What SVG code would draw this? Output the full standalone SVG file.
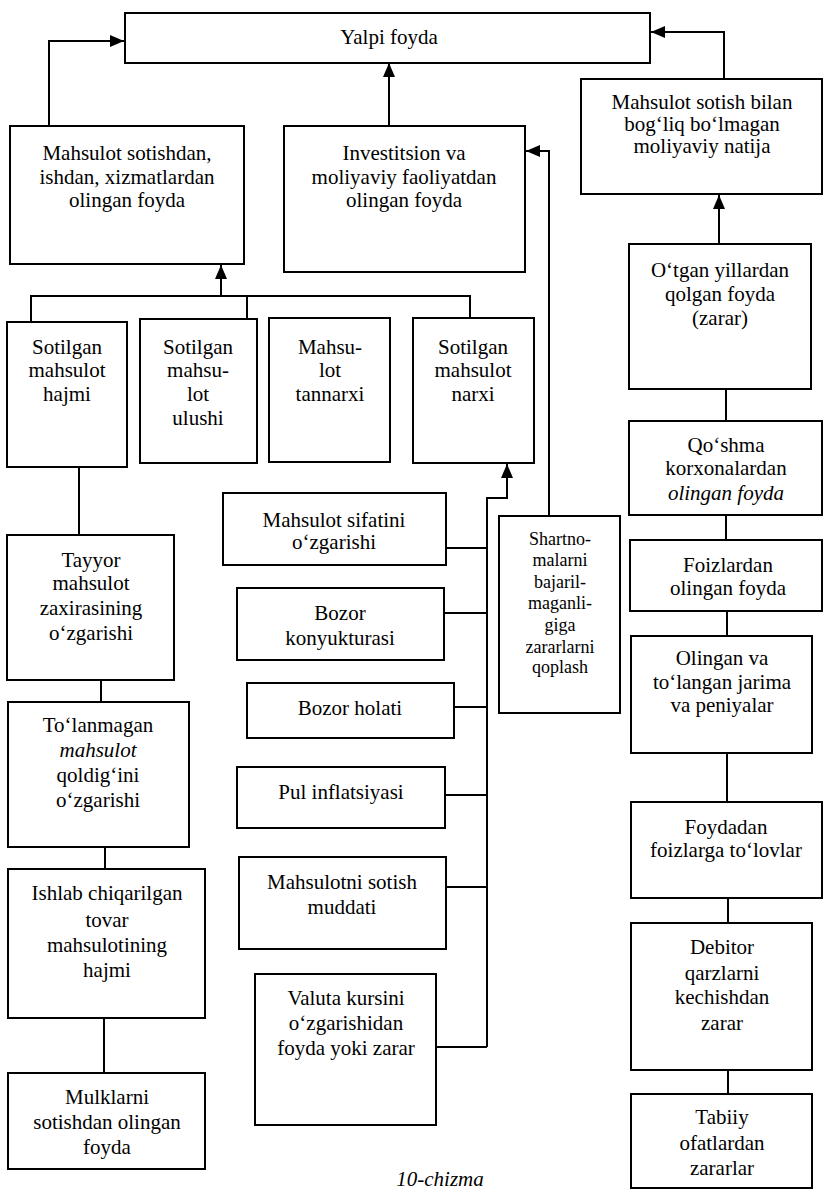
<svg xmlns="http://www.w3.org/2000/svg" width="824" height="1190" viewBox="0 0 824 1190">
<defs>
<marker id="ah" markerUnits="userSpaceOnUse" markerWidth="15" markerHeight="12" refX="14" refY="6" orient="auto">
<path d="M0,0 L14,6 L0,12 Z" fill="#000"/>
</marker>
<style>
.b{fill:#fff;stroke:#000;stroke-width:2}
.c{fill:none;stroke:#000;stroke-width:2}
text{font-family:"Liberation Serif","Times New Roman",serif;font-size:21px;fill:#000;text-anchor:middle}
.s{font-size:18px}
.i{font-style:italic}
</style>
</defs>
<rect width="824" height="1190" fill="#fff"/>
<g id="connectors">
<path class="c" d="M49,126 V41 H124" marker-end="url(#ah)"/>
<path class="c" d="M389,126 V63" marker-end="url(#ah)"/>
<path class="c" d="M724,79 V32 H651" marker-end="url(#ah)"/>
<path class="c" d="M719,244 V195" marker-end="url(#ah)"/>
<path class="c" d="M549,516 V151 H526" marker-end="url(#ah)"/>
<path class="c" d="M31,322 V296 H470 V318 M247,296 V319"/>
<path class="c" d="M221,296 V265" marker-end="url(#ah)"/>
<path class="c" d="M487,1047 V498 H507 V464" marker-end="url(#ah)"/>
<path class="c" d="M446,548 H487 M444,613 H487 M454,707 H487 M445,795 H487 M446,887 H487 M436,1047 H487"/>
<path class="c" d="M79,467 V535 M101,680 V702 M105,847 V869 M104,1018 V1073"/>
<path class="c" d="M726,389 V421 M726,515 V540 M727,611 V636 M727,753 V802 M728,898 V923 M728,1070 V1094"/>
</g>
<g id="yalpi"><rect class="b" x="125" y="13" width="525" height="50"/><text x="389" y="44">Yalpi foyda</text></g>
<g id="sotishdan"><rect class="b" x="10" y="126" width="234" height="138"/><text x="127" y="160">Mahsulot sotishdan,</text><text x="127" y="184">ishdan, xizmatlardan</text><text x="127" y="207">olingan foyda</text></g>
<g id="investitsion"><rect class="b" x="284" y="126" width="241" height="146"/><text x="404" y="160">Investitsion va</text><text x="404" y="184">moliyaviy faoliyatdan</text><text x="404" y="207">olingan foyda</text></g>
<g id="bogliqemas"><rect class="b" x="581" y="79" width="241" height="115"/><text x="702" y="109">Mahsulot sotish bilan</text><text x="702" y="131">bog‘liq bo‘lmagan</text><text x="702" y="153">moliyaviy natija</text></g>
<g id="hajmi"><rect class="b" x="7" y="322" width="120" height="145"/><text x="67" y="354">Sotilgan</text><text x="67" y="377">mahsulot</text><text x="67" y="401">hajmi</text></g>
<g id="ulushi"><rect class="b" x="140" y="319" width="117" height="144"/><text x="198" y="354">Sotilgan</text><text x="198" y="377">mahsu-</text><text x="198" y="401">lot</text><text x="198" y="425">ulushi</text></g>
<g id="tannarxi"><rect class="b" x="269" y="318" width="121" height="144"/><text x="330" y="354">Mahsu-</text><text x="330" y="377">lot</text><text x="330" y="401">tannarxi</text></g>
<g id="narxi"><rect class="b" x="413" y="318" width="121" height="145"/><text x="473" y="354">Sotilgan</text><text x="473" y="377">mahsulot</text><text x="473" y="401">narxi</text></g>
<g id="tayyor"><rect class="b" x="7" y="535" width="167" height="145"/><text x="91" y="567">Tayyor</text><text x="91" y="590">mahsulot</text><text x="91" y="615">zaxirasining</text><text x="91" y="640">o‘zgarishi</text></g>
<g id="tolanmagan"><rect class="b" x="8" y="702" width="181" height="145"/><text x="98" y="732">To‘lanmagan</text><text class="i" x="98" y="757">mahsulot</text><text x="98" y="782">qoldig‘ini</text><text x="98" y="807">o‘zgarishi</text></g>
<g id="ishlab"><rect class="b" x="8" y="869" width="197" height="149"/><text x="107" y="900">Ishlab chiqarilgan</text><text x="107" y="927">tovar</text><text x="107" y="952">mahsulotining</text><text x="107" y="977">hajmi</text></g>
<g id="mulklarni"><rect class="b" x="8" y="1073" width="197" height="96"/><text x="107" y="1104">Mulklarni</text><text x="107" y="1129">sotishdan olingan</text><text x="107" y="1154">foyda</text></g>
<g id="sifat"><rect class="b" x="223" y="493" width="223" height="72"/><text x="334" y="527">Mahsulot sifatini</text><text x="334" y="549">o‘zgarishi</text></g>
<g id="konyuktura"><rect class="b" x="237" y="588" width="207" height="72"/><text x="340" y="620">Bozor</text><text x="340" y="645">konyukturasi</text></g>
<g id="holati"><rect class="b" x="247" y="683" width="207" height="55"/><text x="350" y="715">Bozor holati</text></g>
<g id="inflatsiya"><rect class="b" x="237" y="767" width="208" height="61"/><text x="341" y="799">Pul inflatsiyasi</text></g>
<g id="muddat"><rect class="b" x="239" y="857" width="207" height="92"/><text x="342" y="889">Mahsulotni sotish</text><text x="342" y="914">muddati</text></g>
<g id="valuta"><rect class="b" x="255" y="974" width="181" height="151"/><text x="346" y="1005">Valuta kursini</text><text x="346" y="1030">o‘zgarishidan</text><text x="346" y="1055">foyda yoki zarar</text></g>
<g id="shartnoma"><rect class="b" x="499" y="516" width="121" height="197"/><text class="s" x="560" y="545">Shartno-</text><text class="s" x="560" y="566">malarni</text><text class="s" x="560" y="588">bajaril-</text><text class="s" x="560" y="609">maganli-</text><text class="s" x="560" y="631">giga</text><text class="s" x="560" y="653">zararlarni</text><text class="s" x="560" y="673">qoplash</text></g>
<g id="otgan"><rect class="b" x="629" y="244" width="182" height="145"/><text x="720" y="277">O‘tgan yillardan</text><text x="720" y="301">qolgan foyda</text><text x="720" y="325">(zarar)</text></g>
<g id="qoshma"><rect class="b" x="629" y="421" width="193" height="94"/><text x="726" y="452">Qo‘shma</text><text x="726" y="475">korxonalardan</text><text class="i" x="726" y="500">olingan foyda</text></g>
<g id="foizlar"><rect class="b" x="630" y="540" width="192" height="71"/><text x="728" y="572">Foizlardan</text><text x="728" y="595">olingan foyda</text></g>
<g id="jarima"><rect class="b" x="631" y="636" width="181" height="117"/><text x="722" y="665">Olingan va</text><text x="722" y="689">to‘langan jarima</text><text x="722" y="712">va peniyalar</text></g>
<g id="foydadan"><rect class="b" x="631" y="802" width="191" height="96"/><text x="726" y="834">Foydadan</text><text x="726" y="857">foizlarga to‘lovlar</text></g>
<g id="debitor"><rect class="b" x="631" y="923" width="181" height="147"/><text x="722" y="954">Debitor</text><text x="722" y="980">qarzlarni</text><text x="722" y="1004">kechishdan</text><text x="722" y="1030">zarar</text></g>
<g id="tabiiy"><rect class="b" x="631" y="1094" width="181" height="94"/><text x="722" y="1124">Tabiiy</text><text x="722" y="1150">ofatlardan</text><text x="722" y="1175">zararlar</text></g>
<g id="caption"><text class="i" x="440" y="1186">10-chizma</text></g>
</svg>
